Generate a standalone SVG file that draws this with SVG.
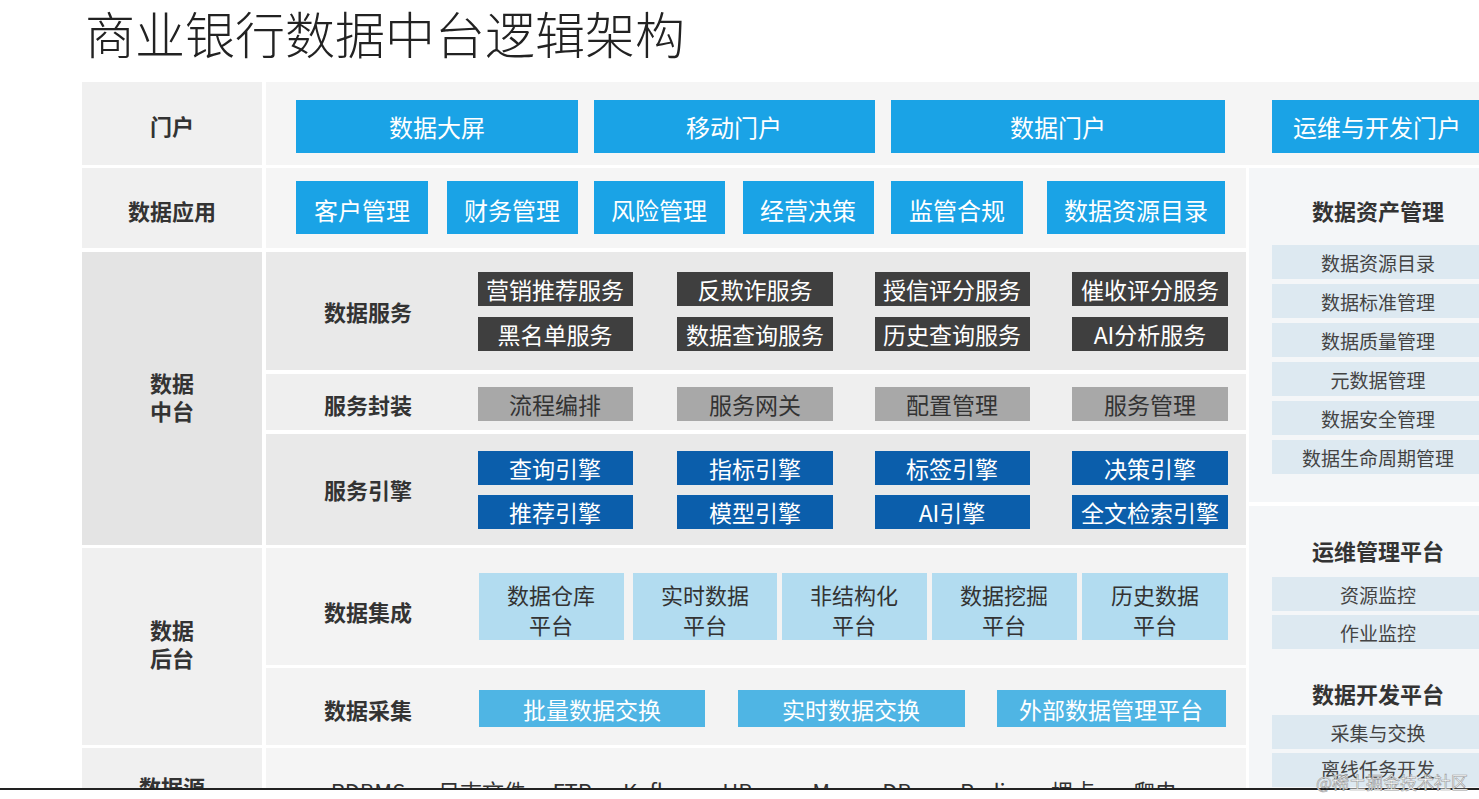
<svg xmlns="http://www.w3.org/2000/svg" width="1479" height="799" viewBox="0 0 1479 799">
<style>
text{font-family:"Noto Sans CJK SC","Noto Sans",sans-serif;text-anchor:middle;dominant-baseline:central}
.lab{font-size:22px;font-weight:bold;fill:#333}
.b1{fill:#1aa3e6}.t1{fill:#fff;font-size:24px}
.b2{fill:#3f3f3f}.t2{fill:#fff;font-size:23px}
.b3{fill:#a8a8a8}.t3{fill:#333;font-size:23px}
.b4{fill:#0b5eab}.t4{fill:#fff;font-size:23px}
.b5{fill:#b2dcf0}.t5{fill:#333;font-size:22px}
.b6{fill:#4fb5e4}.t6{fill:#fff;font-size:23px}
.ri{fill:#dde9f1}.rt{fill:#444;font-size:19px}
.src{fill:#333;font-size:22px}
</style>
<defs><clipPath id="c"><rect x="0" y="0" width="1479" height="788"/></clipPath></defs>
<rect width="1479" height="799" fill="#fff"/>
<text x="385" y="32" style="font-size:50px;fill:#222;font-weight:300">商业银行数据中台逻辑架构</text>
<g clip-path="url(#c)">
<rect x="82" y="82" width="1397" height="720" fill="#f5f5f5"/>
<rect x="82" y="82" width="180" height="720" fill="#f0f0f0"/>
<rect x="82" y="252" width="180" height="293" fill="#e4e4e4"/>
<rect x="266" y="252" width="980" height="118" fill="#e9e9e9"/>
<rect x="266" y="374" width="980" height="56" fill="#efefef"/>
<rect x="266" y="434" width="980" height="111" fill="#e9e9e9"/>
<rect x="266" y="548" width="980" height="117" fill="#f3f3f3"/>
<rect x="266" y="668" width="980" height="77" fill="#f3f3f3"/>
<rect x="82" y="165" width="1397" height="3" fill="#fff"/>
<rect x="82" y="248" width="1166" height="4" fill="#fff"/>
<rect x="82" y="545" width="1166" height="3" fill="#fff"/>
<rect x="266" y="370" width="980" height="4" fill="#fff"/>
<rect x="266" y="430" width="980" height="4" fill="#fff"/>
<rect x="266" y="665" width="980" height="3" fill="#fff"/>
<rect x="82" y="745" width="1166" height="3" fill="#fff"/>
<rect x="262" y="82" width="4" height="720" fill="#fff"/>
<rect x="1248" y="168" width="231" height="634" fill="#f4f6f8"/>
<rect x="1246" y="168" width="3" height="634" fill="#fff"/>
<rect x="1248" y="502" width="231" height="4" fill="#fff"/>
<g id="labels">
<text class="lab" x="172" y="125">门户</text>
<text class="lab" x="172" y="210">数据应用</text>
<text class="lab" x="172" y="382">数据</text><text class="lab" x="172" y="410">中台</text>
<text class="lab" x="172" y="629">数据</text><text class="lab" x="172" y="657">后台</text>
<text class="lab" x="172" y="786">数据源</text>
<text class="lab" x="368" y="311">数据服务</text>
<text class="lab" x="368" y="404">服务封装</text>
<text class="lab" x="368" y="489">服务引擎</text>
<text class="lab" x="368" y="611">数据集成</text>
<text class="lab" x="368" y="709">数据采集</text>
</g>
<g id="portal">
<rect class="b1" x="296" y="100" width="282" height="53"/><text class="t1" x="437" y="126">数据大屏</text>
<rect class="b1" x="594" y="100" width="281" height="53"/><text class="t1" x="734" y="126">移动门户</text>
<rect class="b1" x="891" y="100" width="334" height="53"/><text class="t1" x="1058" y="126">数据门户</text>
<rect class="b1" x="1272" y="100" width="207" height="53"/><text class="t1" x="1377" y="126">运维与开发门户</text>
</g>
<g id="apps">
<rect class="b1" x="296" y="181" width="132" height="53"/><text class="t1" x="362" y="209">客户管理</text>
<rect class="b1" x="447" y="181" width="131" height="53"/><text class="t1" x="512" y="209">财务管理</text>
<rect class="b1" x="594" y="181" width="131" height="53"/><text class="t1" x="659" y="209">风险管理</text>
<rect class="b1" x="743" y="181" width="131" height="53"/><text class="t1" x="808" y="209">经营决策</text>
<rect class="b1" x="891" y="181" width="132" height="53"/><text class="t1" x="957" y="209">监管合规</text>
<rect class="b1" x="1047" y="181" width="178" height="53"/><text class="t1" x="1136" y="209">数据资源目录</text>
</g>
<g id="svc">
<rect class="b2" x="478" y="272" width="155" height="34"/><text class="t2" x="555" y="289">营销推荐服务</text>
<rect class="b2" x="677" y="272" width="156" height="34"/><text class="t2" x="755" y="289">反欺诈服务</text>
<rect class="b2" x="875" y="272" width="155" height="34"/><text class="t2" x="952" y="289">授信评分服务</text>
<rect class="b2" x="1072" y="272" width="156" height="34"/><text class="t2" x="1150" y="289">催收评分服务</text>
<rect class="b2" x="478" y="317" width="155" height="34"/><text class="t2" x="555" y="334">黑名单服务</text>
<rect class="b2" x="677" y="317" width="156" height="34"/><text class="t2" x="755" y="334">数据查询服务</text>
<rect class="b2" x="875" y="317" width="155" height="34"/><text class="t2" x="952" y="334">历史查询服务</text>
<rect class="b2" x="1072" y="317" width="156" height="34"/><text class="t2" x="1150" y="334">AI分析服务</text>
</g>
<g id="wrap">
<rect class="b3" x="478" y="387" width="155" height="34"/><text class="t3" x="555" y="404">流程编排</text>
<rect class="b3" x="677" y="387" width="156" height="34"/><text class="t3" x="755" y="404">服务网关</text>
<rect class="b3" x="875" y="387" width="155" height="34"/><text class="t3" x="952" y="404">配置管理</text>
<rect class="b3" x="1072" y="387" width="156" height="34"/><text class="t3" x="1150" y="404">服务管理</text>
</g>
<g id="engine">
<rect class="b4" x="478" y="451" width="155" height="34"/><text class="t4" x="555" y="468">查询引擎</text>
<rect class="b4" x="677" y="451" width="156" height="34"/><text class="t4" x="755" y="468">指标引擎</text>
<rect class="b4" x="875" y="451" width="155" height="34"/><text class="t4" x="952" y="468">标签引擎</text>
<rect class="b4" x="1072" y="451" width="156" height="34"/><text class="t4" x="1150" y="468">决策引擎</text>
<rect class="b4" x="478" y="495" width="155" height="34"/><text class="t4" x="555" y="512">推荐引擎</text>
<rect class="b4" x="677" y="495" width="156" height="34"/><text class="t4" x="755" y="512">模型引擎</text>
<rect class="b4" x="875" y="495" width="155" height="34"/><text class="t4" x="952" y="512">AI引擎</text>
<rect class="b4" x="1072" y="495" width="156" height="34"/><text class="t4" x="1150" y="512">全文检索引擎</text>
</g>
<g id="integ">
<rect class="b5" x="479" y="573" width="145" height="67"/><text class="t5" x="551" y="594">数据仓库</text><text class="t5" x="551" y="624">平台</text>
<rect class="b5" x="633" y="573" width="144" height="67"/><text class="t5" x="705" y="594">实时数据</text><text class="t5" x="705" y="624">平台</text>
<rect class="b5" x="782" y="573" width="145" height="67"/><text class="t5" x="854" y="594">非结构化</text><text class="t5" x="854" y="624">平台</text>
<rect class="b5" x="932" y="573" width="145" height="67"/><text class="t5" x="1004" y="594">数据挖掘</text><text class="t5" x="1004" y="624">平台</text>
<rect class="b5" x="1082" y="573" width="146" height="67"/><text class="t5" x="1155" y="594">历史数据</text><text class="t5" x="1155" y="624">平台</text>
</g>
<g id="collect">
<rect class="b6" x="479" y="690" width="226" height="37"/><text class="t6" x="592" y="709">批量数据交换</text>
<rect class="b6" x="738" y="690" width="227" height="37"/><text class="t6" x="851" y="709">实时数据交换</text>
<rect class="b6" x="997" y="690" width="229" height="37"/><text class="t6" x="1111" y="709">外部数据管理平台</text>
</g>
<g id="sources">
<text class="src" x="368" y="790">RDBMS</text><text class="src" x="482" y="790">日志文件</text><text class="src" x="572" y="790">FTP</text><text class="src" x="652" y="790">Kafka</text><text class="src" x="755" y="790">HBase</text><text class="src" x="862" y="790">MongoDB</text><text class="src" x="988" y="790">Redis</text><text class="src" x="1073" y="790">埋点</text><text class="src" x="1155" y="790">爬虫</text>
</g>
<g id="right">
<text class="lab" x="1378" y="210">数据资产管理</text>
<rect class="ri" x="1272" y="245" width="207" height="34"/><text class="rt" x="1378" y="262">数据资源目录</text>
<rect class="ri" x="1272" y="284" width="207" height="34"/><text class="rt" x="1378" y="301">数据标准管理</text>
<rect class="ri" x="1272" y="323" width="207" height="34"/><text class="rt" x="1378" y="340">数据质量管理</text>
<rect class="ri" x="1272" y="362" width="207" height="34"/><text class="rt" x="1378" y="379">元数据管理</text>
<rect class="ri" x="1272" y="401" width="207" height="34"/><text class="rt" x="1378" y="418">数据安全管理</text>
<rect class="ri" x="1272" y="440" width="207" height="34"/><text class="rt" x="1378" y="457">数据生命周期管理</text>
<text class="lab" x="1378" y="550">运维管理平台</text>
<rect class="ri" x="1272" y="577" width="207" height="34"/><text class="rt" x="1378" y="594">资源监控</text>
<rect class="ri" x="1272" y="615" width="207" height="34"/><text class="rt" x="1378" y="632">作业监控</text>
<text class="lab" x="1378" y="693">数据开发平台</text>
<rect class="ri" x="1272" y="715" width="207" height="34"/><text class="rt" x="1378" y="732">采集与交换</text>
<rect class="ri" x="1272" y="753" width="207" height="34"/><text class="rt" x="1378" y="768">离线任务开发</text>
</g>
</g>
<rect x="0" y="788" width="1479" height="2" fill="#222"/>
<text x="1392" y="781" style="font-size:17px;fill:#fff;stroke:#999;stroke-width:0.6">@稀土掘金技术社区</text>
</svg>
